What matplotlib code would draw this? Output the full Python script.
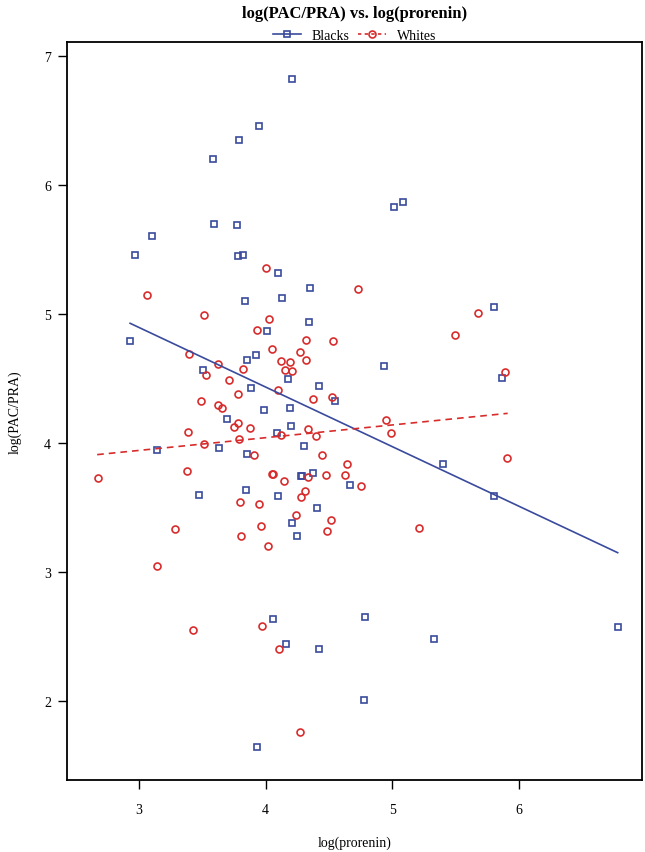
import numpy as np
import matplotlib
matplotlib.use("Agg")
import matplotlib.pyplot as plt

# log(prorenin) / log(PAC/PRA) values
blacks_x = [4.21, 3.945, 3.789, 3.586, 3.594, 3.771, 3.103, 2.971, 3.781, 3.823,
            5.010, 5.086, 2.929, 3.508, 3.697, 3.140, 3.634, 4.097, 4.352, 3.834,
            4.126, 4.339, 4.013, 3.855, 3.921, 4.174, 4.936, 3.884, 4.423, 4.547,
            3.984, 4.189, 4.200, 4.087, 4.300, 3.855, 5.800, 5.863, 4.276, 4.287,
            4.376, 3.476, 3.845, 4.095, 4.405, 4.205, 4.249, 4.060, 4.158, 4.421,
            3.931, 4.668, 5.397, 5.800, 4.781, 5.328, 6.778, 4.773]
blacks_y = [6.82, 6.455, 6.349, 6.199, 5.695, 5.690, 5.602, 5.457, 5.452, 5.460,
            5.827, 5.866, 4.793, 4.566, 4.186, 3.946, 3.959, 5.318, 5.202, 5.101,
            5.124, 4.940, 4.866, 4.646, 4.682, 4.496, 4.597, 4.429, 4.439, 4.328,
            4.258, 4.271, 4.134, 4.075, 3.979, 3.917, 5.054, 4.501, 3.742, 3.742,
            3.765, 3.597, 3.638, 3.587, 3.494, 3.377, 3.279, 2.633, 2.444, 2.403,
            1.643, 3.677, 3.835, 3.587, 2.649, 2.483, 2.576, 2.010]

whites_x = [3.061, 3.513, 3.395, 3.529, 3.626, 3.708, 3.784, 3.487, 3.621, 3.658,
            3.750, 3.784, 3.384, 3.516, 3.787, 4.000, 4.728, 4.029, 3.929, 4.318,
            4.531, 4.052, 4.273, 4.316, 4.123, 4.189, 4.152, 4.208, 3.823, 4.100,
            4.373, 4.521, 3.874, 4.336, 4.400, 4.123, 4.950, 4.989, 3.905, 4.442,
            5.673, 5.497, 5.889, 5.904, 2.674, 3.376, 4.050, 4.058, 4.142, 4.336,
            4.478, 4.310, 4.276, 3.797, 3.945, 4.239, 4.515, 4.486, 3.284, 3.965,
            3.805, 4.016, 3.140, 3.973, 3.429, 4.105, 4.268, 4.639, 4.626, 4.750,
            5.213]
whites_y = [5.150, 4.992, 4.692, 4.530, 4.610, 4.486, 4.380, 4.328, 4.295, 4.271,
            4.127, 4.153, 4.083, 3.990, 4.031, 5.354, 5.191, 4.964, 4.878, 4.796,
            4.793, 4.726, 4.705, 4.641, 4.633, 4.630, 4.568, 4.556, 4.571, 4.411,
            4.343, 4.359, 4.119, 4.106, 4.052, 4.064, 4.178, 4.075, 3.909, 3.909,
            5.010, 4.837, 4.553, 3.886, 3.729, 3.785, 3.757, 3.757, 3.708, 3.734,
            3.752, 3.628, 3.584, 3.543, 3.530, 3.444, 3.403, 3.318, 3.333, 3.357,
            3.279, 3.202, 3.049, 2.584, 2.548, 2.401, 1.762, 3.840, 3.754, 3.669,
            3.339]

# fitted lines (end points)
blacks_fit_x = [2.93, 6.778]
blacks_fit_y = [4.928, 3.150]
whites_fit_x = [2.67, 5.91]
whites_fit_y = [3.91, 4.23]

xticks = [3, 4, 5, 6]
yticks = [2, 3, 4, 5, 6, 7]

blue = "#3a4a9c"
red = "#d82c2c"

plt.rcParams["font.family"] = ["Liberation Serif", "DejaVu Serif"]

fig = plt.figure(figsize=(6.45, 8.53), dpi=100)
ax = fig.add_axes([67 / 645, 1 - 781 / 853, 575 / 645, (781 - 43.3) / 853])

ax.plot(blacks_x, blacks_y, ls="none", marker="s", ms=5, mfc="none",
        mec=blue, mew=1.2)
ax.plot(whites_x, whites_y, ls="none", marker="o", ms=5, mfc="none",
        mec=red, mew=1.2)
ax.plot(blacks_fit_x, blacks_fit_y, color=blue, lw=1.2)
ax.plot(whites_fit_x, whites_fit_y, color=red, lw=1.2, ls=(0, (4, 3)))

ax.set_xlim(2.432, 6.97)
ax.set_ylim(1.388, 7.106)
ax.set_xticks(xticks)
ax.set_yticks(yticks)
ax.tick_params(axis="both", direction="out", length=6.5, width=1, labelsize=10)
ax.tick_params(axis="x", pad=10)
ax.tick_params(axis="y", pad=5)
for s in ax.spines.values():
    s.set_linewidth(1.3)

ax.set_xlabel("log(prorenin)", fontsize=10, labelpad=14)
ax.set_ylabel("log(PAC/PRA)", fontsize=10, labelpad=16)

h1, = ax.plot([], [], color=blue, lw=1.2, marker="s", ms=5, mfc="none", mec=blue, mew=1.2)
h2, = ax.plot([], [], color=red, lw=1.2, ls=(0, (2, 2)), marker="o", ms=5, mfc="none", mec=red, mew=1.2)
ax.legend([h1, h2], ["Blacks", "Whites"], ncol=2, frameon=False, fontsize=10,
          loc="lower center", bbox_to_anchor=(0.5, 1.0), handlelength=2,
          handletextpad=0.8, columnspacing=0.6, borderaxespad=0, borderpad=0)

ax.set_title("log(PAC/PRA) vs. log(prorenin)", fontsize=12, fontweight="bold",
             y=1.0, pad=18.5)

fig.savefig("out.png", dpi=100)
